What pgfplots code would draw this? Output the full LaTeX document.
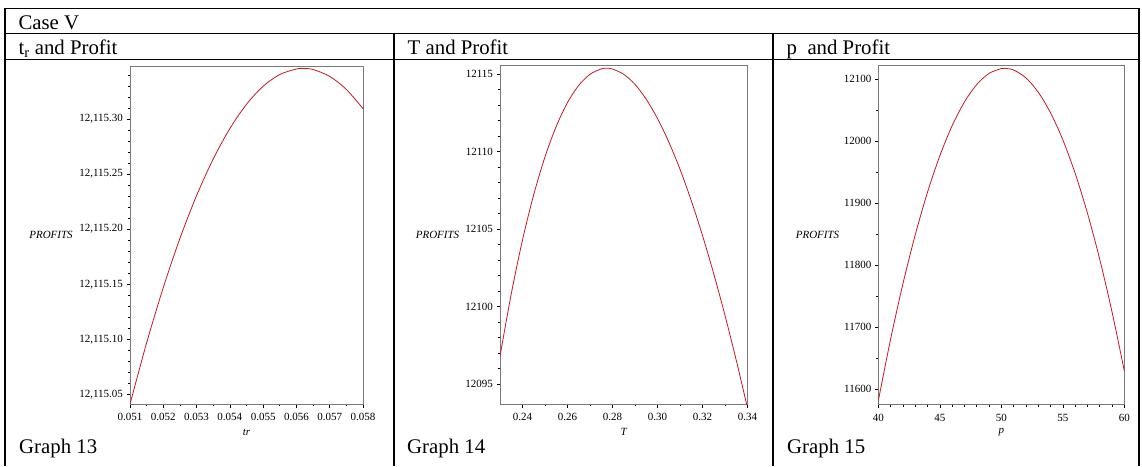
\documentclass[border=0pt]{standalone}
\usepackage{fontspec}
\setmainfont{Liberation Serif}
\usepackage{pgfplots}
\pgfplotsset{compat=1.18}
\definecolor{curve}{RGB}{195,25,35}
\definecolor{frame}{RGB}{120,120,120}

% Graph 13: profit given as offset from 12115 (labels printed in full)
\pgfplotstableread{
x       y
0.0510  0.0410
0.0515  0.0968
0.0520  0.1470
0.0525  0.1916
0.0530  0.2305
0.0535  0.2638
0.0540  0.2914
0.0545  0.3134
0.0550  0.3298
0.0555  0.3405
0.0560  0.3455
0.0562  0.3460
0.0565  0.3450
0.0570  0.3388
0.0575  0.3269
0.0580  0.3095
}\tabA
% Graph 14: profit given as offset from 12100 (labels printed in full)
\pgfplotstableread{
x       y
0.2300  -3.19
0.2350  0.83
0.2400  4.30
0.2450  7.23
0.2500  9.66
0.2550  11.63
0.2600  13.16
0.2650  14.27
0.2700  14.98
0.2750  15.33
0.2774  15.37
0.2800  15.32
0.2850  14.98
0.2900  14.33
0.2950  13.37
0.3000  12.13
0.3050  10.62
0.3100  8.86
0.3150  6.84
0.3200  4.59
0.3250  2.12
0.3300  -0.56
0.3350  -3.45
0.3400  -6.53
}\tabB
% Graph 15
\pgfplotstableread{
x      y
40     11581.5
41     11680.8
42     11769.9
43     11848.8
44     11917.6
45     11976.2
46     12024.7
47     12063.0
48     12091.1
49     12109.1
50     12116.9
50.27  12117.3
51     12114.6
52     12101.9
53     12078.9
54     12045.6
55     12002.1
56     11948.2
57     11884.0
58     11809.6
59     11724.8
60     11629.7
}\tabC

\pgfplotsset{maple/.style={
  scale only axis,
  axis line style={frame, line width=0.8pt},
  xtick pos=left, ytick pos=left,
  tick align=outside,
  major tick length=3.5pt, minor tick length=2.2pt,
  every tick/.style={black, line width=0.6pt},
  tick label style={font=\fontsize{11}{13}\selectfont},
  xticklabel style={yshift=-2.5pt},
  scaled x ticks=false, scaled y ticks=false,
  /pgf/number format/assume math mode=true,
  every axis y label/.style={at={(axis description cs:0,0.5)}, anchor=center, font=\itshape\fontsize{11}{13}\selectfont},
  every axis x label/.style={at={(axis description cs:0.5,0)}, anchor=center, yshift=-28pt, font=\itshape\fontsize{11}{13}\selectfont},
  clip=true,
}}

\begin{document}
\begin{tikzpicture}
\path[use as bounding box] (0,0) rectangle (1142pt,-466pt);
% table rules
\begin{scope}[line width=1.6pt]
\draw (4.7pt,-8.3pt) -- (1139pt,-8.3pt);
\draw (4.7pt,-33.3pt) -- (1139pt,-33.3pt);
\draw (4.7pt,-59.5pt) -- (1139pt,-59.5pt);
\draw (4.7pt,-7.5pt) -- (4.7pt,-466pt);
\draw (1139pt,-7.5pt) -- (1139pt,-466pt);
\draw (394pt,-33.3pt) -- (394pt,-466pt);
\draw (773pt,-33.3pt) -- (773pt,-466pt);
\end{scope}
\begin{scope}[every node/.style={anchor=base west, inner sep=0pt, font=\fontsize{20.8}{24}\selectfont}]
\node at (18.3pt,-29.3pt) {Case V};
\node at (18.3pt,-54.3pt) {t\textsubscript{r} and Profit};
\node at (407.5pt,-54.3pt) {T and Profit};
\node at (786.5pt,-54.3pt) {p\ \ and Profit};
\node at (19pt,-453.5pt) {Graph 13};
\node at (407pt,-453.5pt) {Graph 14};
\node at (787pt,-453.5pt) {Graph 15};
\end{scope}

\begin{axis}[maple, at={(130pt,-404pt)}, anchor=south west, width=233pt, height=338pt,
  xmin=0.051, xmax=0.058, ymin=0.0412, ymax=0.3482,
  xtick={0.051,0.052,0.053,0.054,0.055,0.056,0.057,0.058},
  xticklabels={0.051,0.052,0.053,0.054,0.055,0.056,0.057,0.058},
  minor x tick num=1,
  ytick={0.05,0.10,0.15,0.20,0.25,0.30},
  yticklabels={{12,115.05},{12,115.10},{12,115.15},{12,115.20},{12,115.25},{12,115.30}},
  minor ytick={0.06,0.07,0.08,0.09,0.11,0.12,0.13,0.14,0.16,0.17,0.18,0.19,0.21,0.22,0.23,0.24,0.26,0.27,0.28,0.29,0.31,0.32,0.33,0.34},
  xlabel={tr}, ylabel={PROFITS}, ylabel style={xshift=-79pt}]
\addplot[curve, line width=0.8pt, smooth, no markers] table[x=x,y=y] {\tabA};
\end{axis}

\begin{axis}[maple, at={(500pt,-404pt)}, anchor=south west, width=247.5pt, height=338.3pt,
  xmin=0.23, xmax=0.34, ymin=-6.27, ymax=15.535,
  xtick={0.24,0.26,0.28,0.30,0.32,0.34},
  xticklabels={0.24,0.26,0.28,0.30,0.32,0.34},
  minor x tick num=1,
  ytick={-5,0,5,10,15},
  yticklabels={12095,12100,12105,12110,12115},
  minor y tick num=4,
  xlabel={T}, ylabel={PROFITS}, ylabel style={xshift=-62.5pt}]
\addplot[curve, line width=0.8pt, smooth, no markers] table[x=x,y=y] {\tabB};
\end{axis}

\begin{axis}[maple, at={(878.3pt,-404.3pt)}, anchor=south west, width=246pt, height=338.6pt,
  xmin=40, xmax=60, ymin=11575.8, ymax=12121.5,
  xtick={40,45,50,55,60},
  minor x tick num=4,
  ytick={11600,11700,11800,11900,12000,12100},
  yticklabels={11600,11700,11800,11900,12000,12100},
  minor y tick num=1,
  xlabel={p}, ylabel={PROFITS}, ylabel style={xshift=-60.8pt}]
\addplot[curve, line width=0.8pt, smooth, no markers] table[x=x,y=y] {\tabC};
\end{axis}
\end{tikzpicture}
\end{document}
